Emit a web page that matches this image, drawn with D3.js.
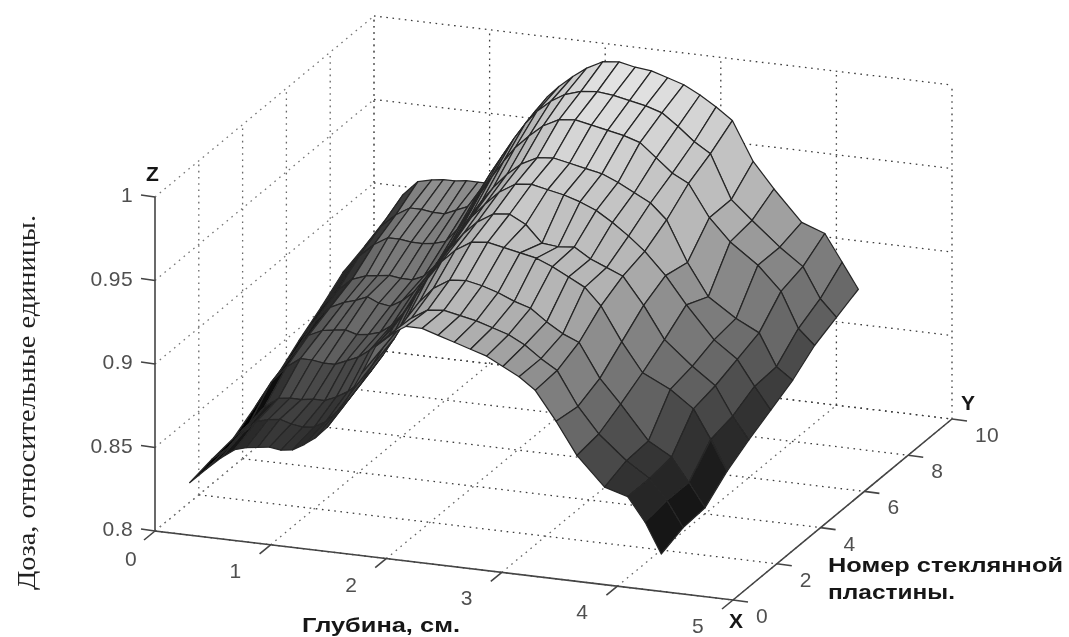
<!DOCTYPE html>
<html><head><meta charset="utf-8">
<script src="https://cdn.jsdelivr.net/npm/d3@7"></script>
<style>html,body{margin:0;padding:0;background:#fff;overflow:hidden}</style>
</head><body><svg id="c" width="1069" height="637"></svg>
<script>
const xGrid=[.11,.25,.38,.5,.6,.7,.8,.9,1.0,1.1,1.2,1.3,1.4,1.5,1.6,1.72,1.84,1.98,2.12,2.26,2.4,2.54,2.68,2.82,2.96,3.1,3.28,3.46,3.7,3.9,4.05,4.19];
const yGrid=[1,2,3,4,5,6,7,8,9,10];
const row1=[.819,.828,.836,.842,.844,.845,.846,.845,.846,.850,.855,.862,.872,.884,.897,.914,.922,.928,.928,.925,.922,.919,.916,.911,.906,.899,.882,.863,.846,.842,.828,.81];
const row2=[.822,.830,.840,.848,.850,.851,.849,.848,.849,.853,.860,.868,.878,.890,.902,.913,.921,.927,.928,.926,.924,.921,.918,.913,.906,.900,.880,.865,.851,.842,.830,.815];
const row3=[.824,.834,.845,.851,.852,.852,.853,.853,.856,.860,.866,.874,.884,.895,.907,.919,.928,.934,.935,.933,.930,.926,.923,.916,.910,.906,.886,.872,.852,.844,.83,.816];
const row4=[.832,.848,.858,.864,.864,.863,.863,.866,.869,.874,.881,.889,.899,.910,.921,.932,.940,.946,.947,.945,.943,.941,.937,.932,.927,.917,.897,.880,.872,.862,.845,.827];
const row5=[.84,.854,.866,.870,.871,.872,.870,.871,.873,.878,.886,.896,.907,.918,.928,.938,.946,.952,.953,.948,.938,.937,.938,.932,.928,.924,.908,.889,.875,.865,.848,.835];
const row6=[.85,.863,.872,.876,.878,.881,.878,.877,.881,.887,.896,.906,.916,.926,.936,.945,.953,.959,.960,.958,.956,.953,.949,.943,.936,.928,.915,.899,.880,.870,.855,.842];
const row7=[.859,.870,.878,.881,.882,.883,.882,.882,.885,.892,.902,.913,.924,.934,.943,.952,.959,.964,.965,.963,.961,.959,.955,.950,.945,.936,.912,.893,.882,.875,.856,.849];
const row8=[.869,.880,.888,.893,.893,.892,.892,.893,.895,.903,.914,.926,.937,.947,.956,.964,.971,.976,.977,.975,.973,.971,.968,.960,.952,.947,.928,.915,.903,.889,.868,.859];
const row9=[.874,.887,.895,.900,.900,.899,.899,.902,.905,.915,.927,.938,.949,.959,.967,.974,.979,.982,.983,.982,.980,.978,.975,.968,.960,.954,.928,.917,.903,.893,.875,.865];
const row10=[.88,.895,.904,.906,.907,.907,.908,.908,.908,.917,.933,.945,.955,.964,.971,.978,.984,.989,.99,.988,.987,.984,.981,.976,.970,.963,.940,.925,.907,.902,.886,.871];
const rows=[row1,row2,row3,row4,row5,row6,row7,row8,row9,row10];
const xTicks=[0,1,2,3,4,5], yTicks=[0,2,4,6,8,10], zTicks=[.8,.85,.9,.95,1];
const zTickLabels=["0.8","0.85","0.9","0.95","1"];
const xAxisTitle="Глубина, см.", zAxisTitle="Доза, относительные единицы.", yAxisTitle=["Номер стеклянной","пластины."];

const ox=d3.scaleLinear().domain([0,5]).range([0,578]), oxY=d3.scaleLinear().domain([0,5]).range([0,69]);
const oy=d3.scaleLinear().domain([0,10]).range([0,219]), oyY=d3.scaleLinear().domain([0,10]).range([0,-181]);
const oz=d3.scaleLinear().domain([.8,1]).range([531,197]);
const P=(x,y,z)=>[155+ox(x)+oy(y), oz(z)+oxY(x)+oyY(y)];

const svg=d3.select("#c");
const defs=svg.append("defs");
defs.append("filter").attr("id","soft").append("feGaussianBlur").attr("stdDeviation",.5);
const g=svg.append("g").attr("filter","url(#soft)");
const line=d3.line();
const grid=g.append("g").attr("fill","none").attr("stroke-dasharray","1.6 4.6").attr("stroke-width",1.3);
const seg=(a,b,c="#3c3c3c")=>grid.append("path").attr("stroke",c).attr("d",line([a,b]));
xTicks.forEach(x=>{seg(P(x,10,.8),P(x,10,1));seg(P(x,0,.8),P(x,10,.8),"#666");});
yTicks.forEach(y=>{if(y>0)seg(P(0,y,.8),P(0,y,1),"#666");seg(P(0,y,.8),P(5,y,.8));});
zTicks.forEach(z=>{seg(P(0,0,z),P(0,10,z),"#777");seg(P(0,10,z),P(5,10,z));});

const gray=d3.scaleLinear().domain([.81,.845,.87,.9,.925,.95,.985]).range([6,50,100,138,180,196,226]).clamp(true);
const surf=g.append("g");
for(let j=rows.length-1;j>0;j--){
  for(let i=0;i<xGrid.length-1;i++){
    const a=rows[j][i],b=rows[j][i+1],c=rows[j-1][i+1],d=rows[j-1][i];
    const s=((b+c)-(a+d))/2/(xGrid[i+1]-xGrid[i]);
    const m=(a+b+c+d)/4;
    let v=gray(m); if(s>0)v-=Math.min(60,380*s);
    if(xGrid[i]<.35)v*=.55;
    v=Math.max(6,v);
    const col=d3.rgb(v,v,v);
    const pts=[P(xGrid[i],yGrid[j],a),P(xGrid[i+1],yGrid[j],b),P(xGrid[i+1],yGrid[j-1],c),P(xGrid[i],yGrid[j-1],d)];
    surf.append("path").attr("d",line(pts)+"Z").attr("fill",col).attr("stroke","#262626").attr("stroke-width",1.25).attr("stroke-linejoin","round");
  }
}
const ax=g.append("g").attr("fill","none").attr("stroke","#444").attr("stroke-width",1.6);
ax.append("path").attr("d",line([P(0,0,1),P(0,0,.8),P(5,0,.8),P(5,10,.8)]));
zTicks.forEach(z=>{const p=P(0,0,z);ax.append("path").attr("d",line([p,[p[0]-14,p[1]-2]]));});
xTicks.forEach(x=>{const p=P(x,0,.8);ax.append("path").attr("d",line([p,[p[0]-11,p[1]+9]]));});
yTicks.forEach(y=>{const p=P(5,y,.8);ax.append("path").attr("d",line([p,[p[0]+15,p[1]+2]]));});
const tl=(x,y,t,a="middle")=>g.append("text").attr("x",x).attr("y",y).attr("text-anchor",a).attr("font-family","'Liberation Sans',Arial,sans-serif").attr("font-size",21).attr("letter-spacing",.4).attr("fill","#505050").text(t);
zTicks.forEach((z,i)=>{const p=P(0,0,z);tl(p[0]-22,p[1]+5,zTickLabels[i],"end");});
xTicks.forEach((x,i)=>{const p=P(x,0,.8);tl(p[0]+(i==0?-24:-35),p[1]+(i==0?35:33),x);});
yTicks.forEach(y=>{const p=P(5,y,.8);tl(p[0]+23,p[1]+23,y,"start");});
const bl=(x,y,t,fs,len)=>{const e=g.append("text").attr("x",x).attr("y",y).attr("font-family","'Liberation Sans',Arial,sans-serif").attr("font-weight","bold").attr("font-size",fs).attr("fill","#161616").text(t);if(len)e.attr("textLength",len).attr("lengthAdjust","spacingAndGlyphs");return e;};
bl(146,181,"Z",21);bl(961,410,"Y",21);bl(729,628,"X",21);
bl(302,632,xAxisTitle,20,158);
bl(828,572,yAxisTitle[0],20,235);
bl(828,599,yAxisTitle[1],20,127);
g.append("text").attr("transform","translate(35,590) rotate(-90)").attr("font-family","'Liberation Serif',serif").attr("font-size",25).attr("fill","#222").attr("textLength",375).attr("lengthAdjust","spacingAndGlyphs").text(zAxisTitle);
</script></body></html>
